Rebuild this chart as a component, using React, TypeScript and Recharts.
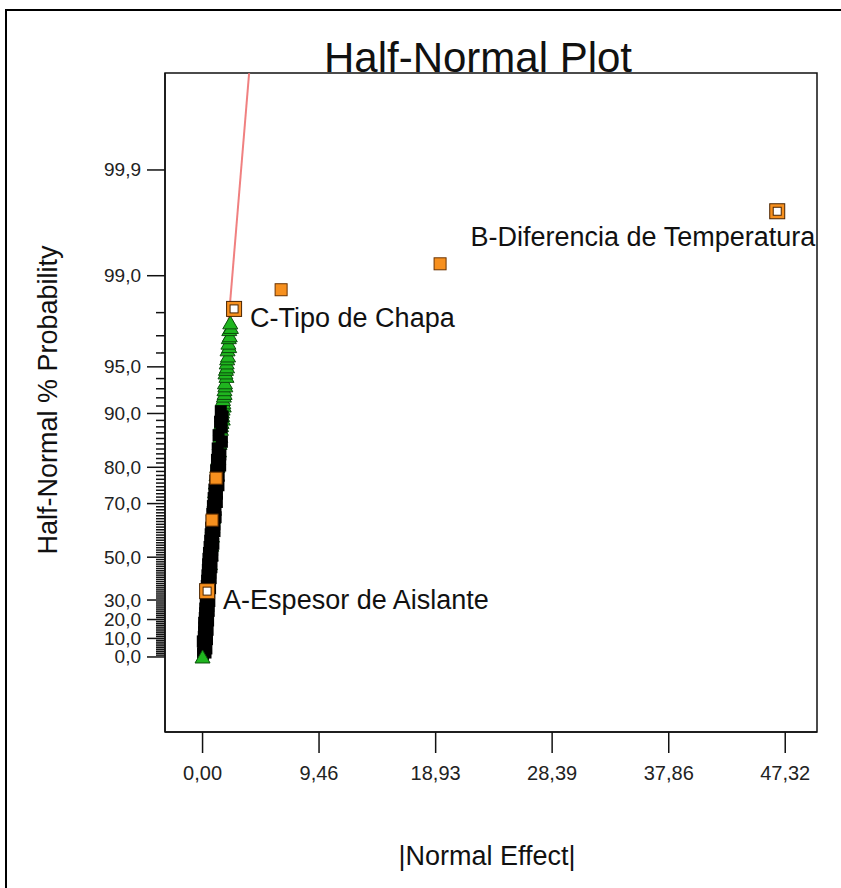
import { ScatterChart, Scatter, XAxis, YAxis, ReferenceArea } from 'recharts';

const FONT = '"Liberation Sans", Arial, sans-serif';

// |Normal Effect| axis
const xTicks = [0, 9.46, 18.93, 28.39, 37.86, 47.32];
// labelled probability ticks (%)
const yMajorTicks = [0, 10, 20, 30, 50, 70, 80, 90, 95, 99, 99.9];
const yMinorTicks = Array.from({ length: 98 }, (_, i) => i + 1);

// error estimates (black squares)
const errorEffect = [
    0.04, 0.24, 0.08, 0.31, 0.06, 0.22, 0.02, 0.36, 0.1, 0.33, 0.12, 0.41, 0.15, 0.34, 0.13, 0.45, 0.18, 0.4,
    0.21, 0.5, 0.22, 0.47, 0.26, 0.55, 0.28, 0.52, 0.3, 0.61, 0.34, 0.58, 0.37, 0.66, 0.4, 0.63, 0.43, 0.72,
    0.45, 0.7, 0.48, 0.8, 0.52, 0.78, 0.57, 0.88, 0.62, 0.85, 0.66, 0.97, 0.7, 0.96, 0.74, 1.06, 0.79, 1.05,
    0.84, 1.16, 0.9, 1.17, 0.96, 1.29, 1.03, 1.31, 1.1, 1.43, 1.17, 1.45, 1.23, 1.57, 1.3, 1.55, 1.42, 1.62,
    1.48,
];
const errorProb = [
    1.6, 2.4, 3.5, 4.6, 5.9, 7.1, 8.4, 9.6, 10.8, 12.1, 13.3, 14.6, 15.8, 17.0, 18.3, 19.5, 20.8, 22.0,
    23.3, 24.5, 25.7, 27.0, 28.2, 29.5, 30.7, 32.0, 33.2, 35.7, 36.9, 38.2, 39.4, 40.6, 41.9, 43.1, 44.4, 45.6,
    46.9, 48.1, 49.3, 50.6, 51.8, 53.1, 54.3, 55.6, 56.8, 58.0, 59.3, 60.5, 61.8, 63.0, 64.3, 65.5, 66.7, 68.0,
    69.2, 70.5, 71.7, 73.0, 74.2, 75.4, 76.7, 77.9, 79.2, 80.4, 81.7, 82.9, 84.1, 85.4, 86.6, 87.9, 88.8, 89.6,
    90.3,
];

// green triangles
const triEffect = [
    0.6, 0.65, 0.71, 0.76, 0.81, 0.86, 0.91, 0.97, 1.02, 1.08, 1.14, 1.2, 1.27, 1.33, 1.38, 1.44, 1.49,
    1.54, 1.5, 1.6, 1.64, 1.58, 1.63, 1.72, 1.69, 1.66, 1.73, 1.79, 1.78, 1.85, 1.82, 1.94, 1.86, 1.9, 1.99,
    1.96, 2.0, 2.07, 2.03, 2.16, 2.1, 2.13, 2.21, 2.17, 2.3, 2.25,
];
const triProb = [
    47.2, 51.2, 55.0, 58.6, 62.0, 65.2, 68.2, 71.0, 73.6, 76.0, 78.2, 80.2, 82.0, 83.6, 85.1, 86.4, 87.6,
    88.7, 88.2, 89.7, 89.2, 90.2, 90.6, 91.0, 91.4, 91.8, 92.2, 92.5, 92.9, 93.3, 93.6, 94.2, 94.5, 94.8, 95.0,
    95.3, 95.6, 95.8, 96.2, 96.4, 96.6, 96.9, 97.0, 97.3, 97.4, 97.6,
];
// triangle at the origin, drawn over the black band
const originEffect = [0];
const originProb = [0];

// model terms without labels
const termEffect = [0.77, 1.1, 6.38, 19.29];
const termProb = [64.5, 77.3, 98.69, 99.21];

// labelled main effects
const mainNames = ['A-Espesor de Aislante', 'C-Tipo de Chapa', 'B-Diferencia de Temperatura'];
const mainEffect = [0.37, 2.56, 46.67];
const mainProb = [34.4, 98.13, 99.74];

// fitted half-normal line
const fitEffect = [-0.15, 3.78];
const fitProb = [0, 99.992];

const labelLayout: Record<string, { dx: number; dy: number; anchor: 'start' | 'end' }> = {
    'A-Espesor de Aislante': { dx: 16, dy: 9, anchor: 'start' },
    'C-Tipo de Chapa': { dx: 16, dy: 9, anchor: 'start' },
    'B-Diferencia de Temperatura': { dx: 38, dy: 26, anchor: 'end' },
};

// half-normal quantile of a percent probability
function halfNormalZ(p: number) {
    const q = 0.5 - p / 200;
    if (q >= 0.5) return 0;
    const t = Math.sqrt(-2 * Math.log(q));
    return t - (2.515517 + 0.802853 * t + 0.010328 * t * t) / (1 + 1.432788 * t + 0.189269 * t * t + 0.001308 * t * t * t);
}

const toPoints = (effects: number[], probs: number[], names?: string[]) =>
    effects.map((x, i) => ({ x, z: halfNormalZ(probs[i]), name: names ? names[i] : '' }));

const errorData = toPoints(errorEffect, errorProb);
const triData = toPoints(triEffect, triProb);
const originData = toPoints(originEffect, originProb);
const termData = toPoints(termEffect, termProb);
const mainData = toPoints(mainEffect, mainProb, mainNames);
const fitData = toPoints(fitEffect, fitProb);

const X_DOMAIN: [number, number] = [-3.05, 49.9];
const Y_DOMAIN: [number, number] = [-0.507, 3.946];

const fmt = (v: number, d: number) => v.toFixed(d).replace('.', ',');

const majorZ = yMajorTicks.map(halfNormalZ);
const minorZ = yMinorTicks.filter((p) => !yMajorTicks.includes(p)).map(halfNormalZ);
const allYTicks = [...majorZ, ...minorZ];

const YTick = ({ x, y, payload }: any) => {
    const idx = majorZ.findIndex((z) => Math.abs(z - payload.value) < 1e-6);
    if (idx < 0) {
        return <line x1={x - 9} x2={x} y1={y} y2={y} stroke="#111" strokeWidth={1.5} />;
    }
    return (
        <g>
            <line x1={x - 18} x2={x} y1={y} y2={y} stroke="#111" strokeWidth={1.5} />
            <text x={x - 24} y={y} textAnchor="end" dominantBaseline="central" fontSize={19} fill="#222" fontFamily={FONT}>
                {fmt(yMajorTicks[idx], 1)}
            </text>
        </g>
    );
};

const XTick = ({ x, y, payload }: any) => (
    <g>
        <line x1={x} x2={x} y1={y} y2={y + 21} stroke="#111" strokeWidth={1.5} />
        <text x={x} y={y + 41} textAnchor="middle" dominantBaseline="central" fontSize={20} fill="#222" fontFamily={FONT}>
            {fmt(payload.value, 2)}
        </text>
    </g>
);

const BlackSquare = ({ cx, cy }: any) => <rect x={cx - 6} y={cy - 6} width={12} height={12} fill="#000" />;

const GreenTriangle = ({ cx, cy }: any) => (
    <path
        d={`M${cx},${cy - 7} L${cx + 7.5},${cy + 6} L${cx - 7.5},${cy + 6} Z`}
        fill="#1fb51f"
        stroke="#0b4d0b"
        strokeWidth={1}
    />
);

const OrangeSquare = ({ cx, cy }: any) => (
    <rect x={cx - 6} y={cy - 6} width={12} height={12} fill="#f7901e" stroke="#6b3300" strokeWidth={1} />
);

const LabelledSquare = ({ cx, cy, payload }: any) => {
    const lay = labelLayout[payload?.name] || { dx: 16, dy: 9, anchor: 'start' };
    return (
        <g>
            <rect x={cx - 7.5} y={cy - 7.5} width={15} height={15} fill="#f7901e" stroke="#4a2400" strokeWidth={1} />
            <rect x={cx - 4} y={cy - 4} width={8} height={8} fill="#fff" stroke="#4a2400" strokeWidth={1} />
            <text
                x={cx + lay.dx}
                y={cy + lay.dy}
                textAnchor={lay.anchor}
                dominantBaseline="central"
                fontSize={27}
                fill="#111"
                fontFamily={FONT}
            >
                {payload?.name}
            </text>
        </g>
    );
};

export default function App() {
    return (
        <div style={{ position: 'absolute', left: 0, top: 0, width: 841, height: 888, background: '#fff', overflow: 'hidden' }}>
            <div style={{ position: 'absolute', left: 5, top: 9, width: 860, height: 900, border: '2px solid #000' }} />
            <div style={{ position: 'absolute', left: 0, top: 0 }}>
                <ScatterChart width={841} height={888} margin={{ top: 73, right: 24, left: 5, bottom: 5 }}>
                    <XAxis
                        type="number"
                        dataKey="x"
                        domain={X_DOMAIN}
                        ticks={xTicks}
                        allowDataOverflow
                        interval={0}
                        height={151}
                        tickSize={0}
                        tickMargin={0}
                        tickLine={false}
                        axisLine={{ stroke: '#111', strokeWidth: 1.5 }}
                        tick={<XTick />}
                    />
                    <YAxis
                        type="number"
                        dataKey="z"
                        domain={Y_DOMAIN}
                        ticks={allYTicks}
                        allowDataOverflow
                        interval={0}
                        width={160}
                        tickSize={0}
                        tickMargin={0}
                        tickLine={false}
                        axisLine={{ stroke: '#111', strokeWidth: 1.5 }}
                        tick={<YTick />}
                    />
                    <ReferenceArea
                        x1={X_DOMAIN[0]}
                        x2={X_DOMAIN[1]}
                        y1={Y_DOMAIN[0]}
                        y2={Y_DOMAIN[1]}
                        fill="none"
                        stroke="#111"
                        strokeWidth={1.5}
                        fillOpacity={0}
                    />
                    <Scatter data={fitData} line={{ stroke: '#f08080', strokeWidth: 2 }} shape={() => <g />} isAnimationActive={false} />
                    <Scatter data={triData} shape={<GreenTriangle />} isAnimationActive={false} />
                    <Scatter data={errorData} shape={<BlackSquare />} isAnimationActive={false} />
                    <Scatter data={originData} shape={<GreenTriangle />} isAnimationActive={false} />
                    <Scatter data={termData} shape={<OrangeSquare />} isAnimationActive={false} />
                    <Scatter data={mainData} shape={<LabelledSquare />} isAnimationActive={false} />
                </ScatterChart>
            </div>
            <svg width={841} height={888} style={{ position: 'absolute', left: 0, top: 0, pointerEvents: 'none' }}>
                <text x={478} y={72} textAnchor="middle" fontSize={42} fill="#111" fontFamily={FONT}>
                    Half-Normal Plot
                </text>
                <text
                    x={0}
                    y={0}
                    transform="translate(48,400) rotate(-90)"
                    textAnchor="middle"
                    dominantBaseline="central"
                    fontSize={27}
                    fill="#111"
                    fontFamily={FONT}
                >
                    Half-Normal % Probability
                </text>
                <text x={487} y={856} textAnchor="middle" dominantBaseline="central" fontSize={27} fill="#111" fontFamily={FONT}>
                    |Normal Effect|
                </text>
            </svg>
        </div>
    );
}
